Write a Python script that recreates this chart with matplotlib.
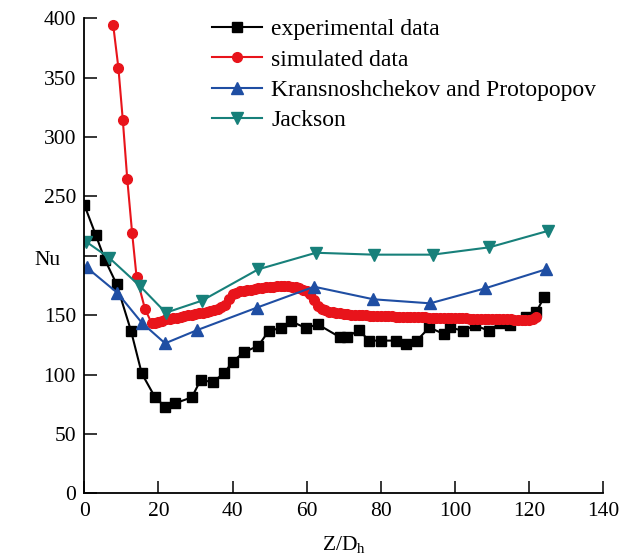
import matplotlib
matplotlib.use("Agg")
import matplotlib.pyplot as plt

plt.rcParams['font.family'] = ['Liberation Serif', 'DejaVu Serif']
plt.rcParams['mathtext.fontset'] = 'custom'
plt.rcParams['mathtext.rm'] = 'Liberation Serif'

# experimental data
exp_x = [0, 3.1, 5.6, 8.7, 12.6, 15.5, 19.1, 21.8, 24.5, 29.0, 31.4, 34.6, 37.7, 40.0,
         43.1, 46.9, 49.8, 53.1, 55.8, 59.8, 63.0, 69.0, 70.8, 74.1, 76.8, 80.0, 84.0,
         86.8, 89.7, 93.1, 97.0, 98.6, 102.2, 105.4, 109.3, 112.1, 114.8, 119.3, 122.0, 124.1]
exp_y = [243, 217.5, 196.5, 176.3, 136.9, 101, 80.8, 72.9, 75.8, 80.8, 95.4, 93.7, 101, 110.8,
         119, 124, 136.9, 139.2, 144.8, 139.2, 142.3, 131.4, 131.4, 137.5, 128.6, 128.6, 128.6,
         125.8, 128.6, 139.7, 134.1, 139.7, 136.9, 141.5, 136.7, 143.7, 141.5, 148.2, 153, 165.5]

# simulated data
sim_x = [7.8, 9.2, 10.4, 11.6, 12.9, 14.1, 16.4, 18.2,
         19, 20, 21, 22, 23, 24, 25, 26, 27, 28, 29, 30, 31, 32, 33, 34, 35, 36, 37, 38, 39,
         40, 41, 42, 43, 44, 45, 46, 47, 48, 49, 50, 51, 52, 53, 54, 55, 56, 57, 58, 59,
         60, 61, 62, 63, 64, 65, 66, 67, 68, 69, 70, 71, 72, 73, 74, 75, 76, 77, 78, 79,
         80, 81, 82, 83, 84, 85, 86, 87, 88, 89, 90, 91, 92, 93, 94, 95, 96, 97, 98, 99,
         100, 101, 102, 103, 104, 105, 106, 107, 108, 109, 110, 111, 112, 113, 114, 115,
         116, 117, 118, 119, 120, 121, 121.9]
sim_y = [394.4, 358.4, 314.1, 264.4, 219.5, 182.4, 155, 143.2,
         143.5, 144.5, 145.5, 146.5, 147, 147.5, 148, 148.5, 149, 150, 150.5, 151, 151.5, 152,
         153, 153.5, 154.5, 155.5, 157, 159, 164,
         167.5, 169, 170, 170.5, 171, 171.5, 172, 172.5, 173, 173.5, 174, 174, 174.5, 174.5,
         174.5, 174.5, 174, 173.5, 172.5, 171.5,
         170, 167.5, 163, 158, 155.5, 154, 153, 152.5, 152, 151.5, 151, 150.8, 150.5, 150.3,
         150, 150, 149.8, 149.6, 149.5, 149.4,
         149.3, 149.2, 149.1, 149, 148.9, 148.8, 148.7, 148.6, 148.5, 148.4, 148.3, 148.2,
         148.1, 148, 147.9, 147.8, 147.7, 147.7, 147.6, 147.6,
         147.5, 147.4, 147.3, 147.3, 147.2, 147.1, 147, 147, 146.9, 146.8, 146.7, 146.7,
         146.6, 146.5, 146.5, 146.4,
         146.3, 146.3, 146.2, 146.1, 146, 146.5, 148.7]

# Kransnoshchekov and Protopopov
kp_x = [0.6, 8.9, 15.5, 21.8, 30.5, 46.5, 62.0, 78.0, 93.3, 108.1, 124.5]
kp_y = [190.3, 168.9, 143.7, 126.3, 137.5, 156.3, 174, 163.4, 160, 172.6, 188.6]

# Jackson
jk_x = [0.5, 6.7, 15.0, 22.0, 31.7, 46.9, 62.5, 78.1, 94.0, 109.3, 125.2]
jk_y = [211.9, 198.4, 174.6, 152.1, 162.2, 188.6, 202.6, 201, 201, 207.2, 221.1]

labels = ["experimental data", "simulated data", "Kransnoshchekov and Protopopov", "Jackson"]
colors = ["#000000", "#E8141B", "#1F4EA3", "#17807A"]

x_ticks = [0, 20, 40, 60, 80, 100, 120, 140]
y_ticks = [0, 50, 100, 150, 200, 250, 300, 350, 400]
y_tick_labels = ["0", "50", "100", "150", "", "250", "300", "350", "400"]

fig = plt.figure(figsize=(6.29, 5.58), dpi=100)
ax = fig.add_axes([0.134, 0.116, 0.825, 0.851])

ax.plot(exp_x, exp_y, color=colors[0], marker='s', markersize=6.5, linewidth=1.5, label=labels[0])
ax.plot(sim_x, sim_y, color=colors[1], marker='o', markersize=7, linewidth=1.5, label=labels[1])
ax.plot(kp_x, kp_y, color=colors[2], marker='^', markersize=8, linewidth=1.5, label=labels[2])
ax.plot(jk_x, jk_y, color=colors[3], marker='v', markersize=8, linewidth=1.5, label=labels[3])

ax.set_xlim(0, 140)
ax.set_ylim(0, 400)
ax.set_xticks(x_ticks)
ax.set_yticks(y_ticks)
ax.set_yticklabels(y_tick_labels)
ax.tick_params(direction='in', length=9, width=1.1, labelsize=15.5)
ax.tick_params(axis='x', pad=6)
ax.tick_params(axis='y', pad=6)
for s in ['top', 'right']:
    ax.spines[s].set_visible(False)
for s in ['left', 'bottom']:
    ax.spines[s].set_linewidth(1.3)

ax.set_xlabel(r'Z/D$_\mathregular{h}$', fontsize=15.5, labelpad=10)
ax.text(-0.07, 196, 'Nu', transform=ax.get_yaxis_transform(), fontsize=15.5,
        ha='center', va='center')

fig.legend(handles=ax.get_lines(), labels=labels, loc='upper left',
           bbox_to_anchor=(0.337, 0.966), bbox_transform=fig.transFigure,
           frameon=False, fontsize=17, borderpad=0, borderaxespad=0,
           handlelength=2.1, labelspacing=0.37, handletextpad=0.42)

fig.savefig('out.png', dpi=100)
